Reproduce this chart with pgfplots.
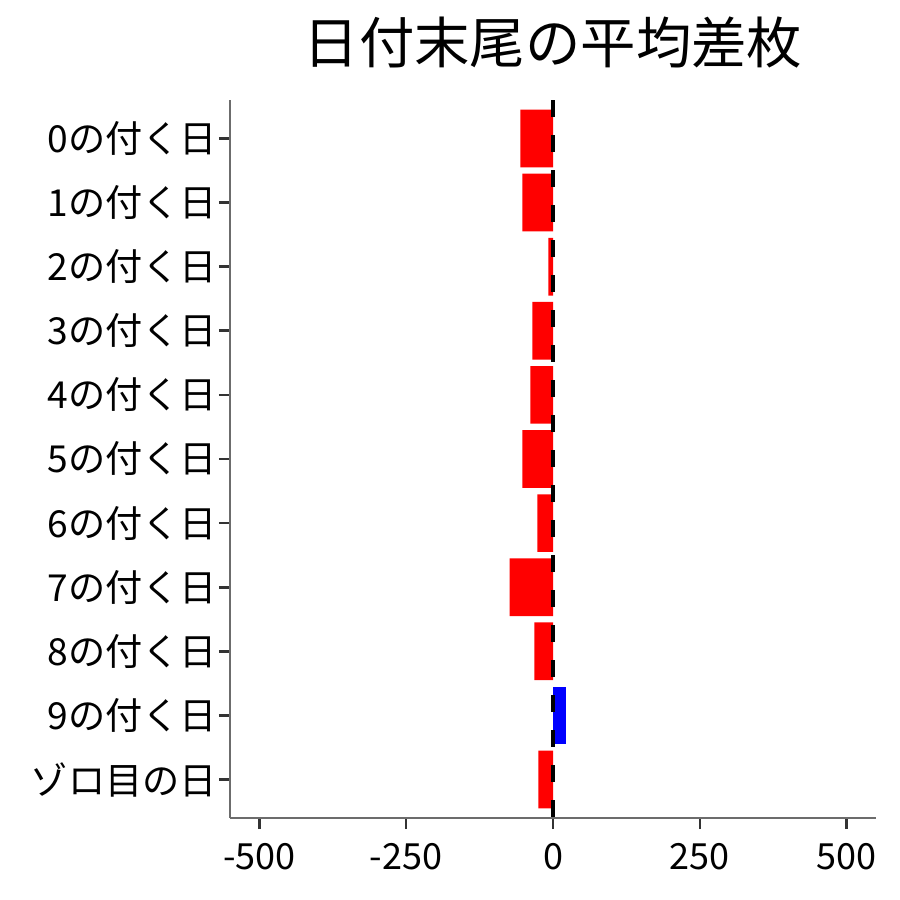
\documentclass[border=0pt]{standalone}
\usepackage{pgfplots}
\pgfplotsset{compat=1.18}
\usepackage{fontspec}
\setmainfont{Noto Sans CJK JP}
\begin{document}
\begin{tikzpicture}
\begin{axis}[
  at={(0,0)}, anchor=south west,
  scale only axis, width=323pt, height=359pt,
  xmin=-550, xmax=550, ymin=0.4, ymax=11.6,
  y dir=reverse,
  axis x line*=bottom, axis y line*=left,
  axis line style={draw=gray!85!black, line width=0.9pt},
  xtick={-500,-250,0,250,500},
  xticklabels={-500,-250,0,250,500},
  ytick={1,2,3,4,5,6,7,8,9,10,11},
  yticklabels={0の付く日,1の付く日,2の付く日,3の付く日,4の付く日,5の付く日,6の付く日,7の付く日,8の付く日,9の付く日,ゾロ目の日},
  tick align=outside, major tick length=5.5pt,
  tick style={draw=black!80, line width=1.3pt},
  ticklabel style={font=\fontsize{18}{20}\selectfont, text=black},
  yticklabel style={xshift=2.5pt, font=\fontsize{18.6}{20}\selectfont},
  xticklabel style={yshift=-3.5pt},
  title={日付末尾の平均差枚},
  title style={font=\fontsize{27.7}{30}\selectfont, at={(0.5,1)}, anchor=center, yshift=22.5pt},
  clip=false,
]
\addplot[xbar, bar width=0.9, bar shift=0, fill=red, draw=none] coordinates {
  (-55.6,1) (-52,2) (-8,3) (-35,4) (-38.6,5) (-52,6) (-26.7,7) (-74,8) (-31.8,9) (-25,11)
};
\addplot[xbar, bar width=0.9, bar shift=0, fill=blue, draw=none] coordinates {
  (22,10)
};
\addplot[black, line width=1.75pt, dash pattern=on 8.5pt off 9pt] coordinates {(0,0.4) (0,11.6)};
\end{axis}
\pgfresetboundingbox
\path[use as bounding box] (-115pt,-40.75pt) rectangle (335pt,409pt);
\end{tikzpicture}
\end{document}
